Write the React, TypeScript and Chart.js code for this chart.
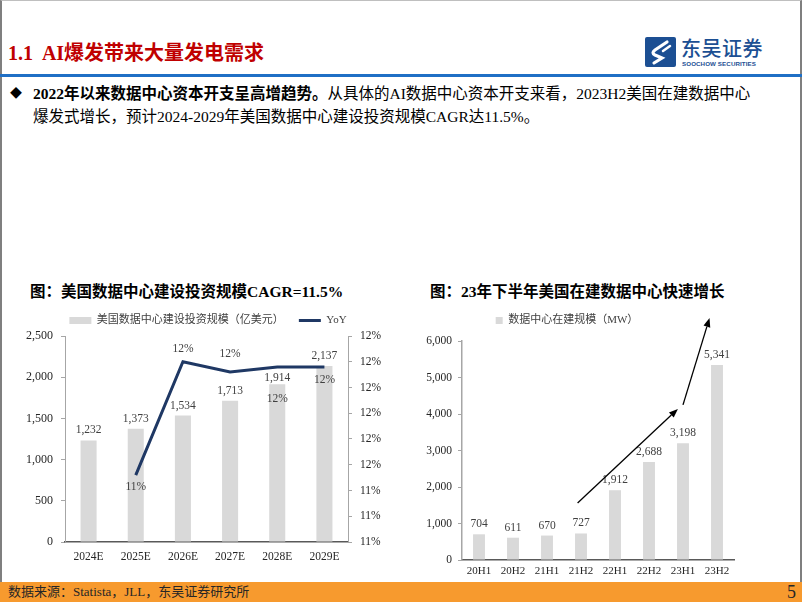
import React, { useEffect, useRef } from 'react';
import { Chart, registerables } from 'chart.js';

Chart.register(...registerables);

// ---------- data ----------
const investYears = ['2024E', '2025E', '2026E', '2027E', '2028E', '2029E'];
const investValues = [1232, 1373, 1534, 1713, 1914, 2137];
const yoyValues = [null, 11.48, 11.70, 11.68, 11.69, 11.69];
const yoyTickLabels = ['11%', '11%', '11%', '12%', '12%', '12%', '12%', '12%', '12%'];

const dcPeriods = ['20H1', '20H2', '21H1', '21H2', '22H1', '22H2', '23H1', '23H2'];
const dcValues = [704, 611, 670, 727, 1912, 2688, 3198, 5341];
// trend arrows in data units: [fromIndex, fromValue, toIndex, toValue]
const trendArrows = [
  [2.9, 1560, 5.85, 4140],
  [6.0, 4250, 6.78, 6630],
];

const SERIF = "'Liberation Serif', 'Times New Roman', 'Noto Sans CJK SC', serif";

Chart.defaults.font.family = SERIF;

const fmtNum = (v: number) => v.toLocaleString('en-US');
const fmtPct = (v: number) => Math.round(v) + '%';

const valueLabels = {
  id: 'valueLabels',
  afterDatasetsDraw(chart: any, _args: any, opts: any) {
    const ctx = chart.ctx;
    ctx.save();
    ctx.font = opts.font;
    ctx.fillStyle = opts.color;
    ctx.textAlign = 'center';
    ctx.textBaseline = 'middle';
    chart.data.datasets.forEach((ds: any, di: number) => {
      const meta = chart.getDatasetMeta(di);
      const offs = opts.offsets[di];
      const fmt = opts.formats[di];
      meta.data.forEach((el: any, i: number) => {
        const v = ds.data[i];
        if (v == null) return;
        const dy = Array.isArray(offs) ? offs[i] : offs;
        ctx.fillText(fmt(v), el.x, el.y + dy);
      });
    });
    ctx.restore();
  },
};

const arrowPlugin = {
  id: 'trendArrows',
  afterDatasetsDraw(chart: any, _args: any, opts: any) {
    const ctx = chart.ctx;
    const xs = chart.scales.x;
    const ys = chart.scales.y;
    ctx.save();
    ctx.strokeStyle = opts.color;
    ctx.fillStyle = opts.color;
    ctx.lineWidth = opts.width;
    opts.arrows.forEach(([i0, v0, i1, v1]: number[]) => {
      const x0 = xs.getPixelForValue(i0);
      const y0 = ys.getPixelForValue(v0);
      const x1 = xs.getPixelForValue(i1);
      const y1 = ys.getPixelForValue(v1);
      const ang = Math.atan2(y1 - y0, x1 - x0);
      const hl = opts.headLength;
      const hw = opts.headWidth;
      const bx = x1 - hl * Math.cos(ang);
      const by = y1 - hl * Math.sin(ang);
      ctx.beginPath();
      ctx.moveTo(x0, y0);
      ctx.lineTo(bx, by);
      ctx.stroke();
      ctx.beginPath();
      ctx.moveTo(x1, y1);
      ctx.lineTo(bx + hw * Math.sin(ang), by - hw * Math.cos(ang));
      ctx.lineTo(bx - hw * Math.sin(ang), by + hw * Math.cos(ang));
      ctx.closePath();
      ctx.fill();
    });
    ctx.restore();
  },
};

const legendHeight = {
  id: 'legendHeight',
  beforeInit(chart: any, _args: any, opts: any) {
    const legend = chart.legend;
    if (!legend) return;
    const fit = legend.fit;
    legend.fit = function () {
      fit.call(this);
      this.height = opts.height;
    };
  },
};

const axisColor = '#a6a6a6';
const baseColor = '#595959';
const tickColor = '#262626';

function InvestChart() {
  const ref = useRef<HTMLCanvasElement>(null);
  useEffect(() => {
    const chart = new Chart(ref.current as HTMLCanvasElement, {
      type: 'bar',
      data: {
        labels: investYears,
        datasets: [
          {
            type: 'bar',
            label: '美国数据中心建设投资规模（亿美元）',
            data: investValues,
            backgroundColor: '#d9d9d9',
            borderWidth: 0,
            barPercentage: 0.34,
            categoryPercentage: 1,
            pointStyle: 'rect',
            order: 1,
            yAxisID: 'y',
          } as any,
          {
            type: 'line',
            label: 'YoY',
            data: yoyValues,
            borderColor: '#1f3864',
            backgroundColor: '#1f3864',
            borderWidth: 3,
            pointRadius: 0,
            pointHoverRadius: 0,
            pointBorderWidth: 3,
            pointBorderColor: '#1f3864',
            pointStyle: 'line',
            tension: 0,
            order: 0,
            yAxisID: 'y1',
          } as any,
        ],
      },
      options: {
        responsive: false,
        animation: false,
        layout: { padding: { top: 0, left: 0, right: 0, bottom: 0 } },
        plugins: {
          tooltip: { enabled: false },
          legend: {
            position: 'top',
            labels: {
              usePointStyle: true,
              pointStyleWidth: 22,
              boxHeight: 7,
              padding: 15,
              color: '#404040',
              font: { size: 11, family: SERIF },
              sort: (a: any, b: any) => a.datasetIndex - b.datasetIndex,
            },
          },
          legendHeight: { height: 36 },
          valueLabels: {
            font: `11.5px ${SERIF}`,
            color: '#404040',
            offsets: [[-10, -10, -10, -10, -6, -10], [0, 12, -13, -18, 32, 13]],
            formats: [fmtNum, fmtPct],
          },
        } as any,
        scales: {
          x: {
            grid: { display: false, drawTicks: false },
            border: { color: baseColor, width: 1.5 },
            ticks: { color: tickColor, font: { size: 11.5 }, padding: 8, maxRotation: 0 },
            afterFit: (s: any) => { s.height = 30; },
          },
          y: {
            position: 'left',
            min: 0,
            max: 2500,
            ticks: { stepSize: 500, color: tickColor, font: { size: 12 }, padding: 8 },
            grid: { drawOnChartArea: false, drawTicks: true, tickLength: 4, color: axisColor },
            border: { color: axisColor, width: 1 },
            afterFit: (s: any) => { s.width = 49; },
          },
          y1: {
            position: 'right',
            min: 11.35,
            max: 11.75,
            ticks: {
              stepSize: 0.05,
              color: tickColor,
              font: { size: 11.5 },
              padding: 8,
              callback: (_v: any, i: number) => yoyTickLabels[i],
            },
            grid: { drawOnChartArea: false, drawTicks: true, tickLength: 4, color: axisColor },
            border: { color: axisColor, width: 1 },
            afterFit: (s: any) => { s.width = 52; },
          },
        },
      } as any,
      plugins: [legendHeight, valueLabels],
    });
    return () => chart.destroy();
  }, []);
  return (
    <canvas
      ref={ref}
      width={384}
      height={272}
      style={{ position: 'absolute', left: 16, top: 300, width: 384, height: 272 }}
    />
  );
}

function DcChart() {
  const ref = useRef<HTMLCanvasElement>(null);
  useEffect(() => {
    const chart = new Chart(ref.current as HTMLCanvasElement, {
      type: 'bar',
      data: {
        labels: dcPeriods,
        datasets: [
          {
            label: '数据中心在建规模（MW）',
            data: dcValues,
            backgroundColor: '#d9d9d9',
            borderWidth: 0,
            barPercentage: 0.35,
            categoryPercentage: 1,
            pointStyle: 'rect',
          } as any,
        ],
      },
      options: {
        responsive: false,
        animation: false,
        layout: { padding: { top: 0, left: 0, right: 10, bottom: 0 } },
        plugins: {
          tooltip: { enabled: false },
          legend: {
            position: 'top',
            labels: {
              usePointStyle: true,
              pointStyleWidth: 7,
              boxHeight: 7,
              padding: 10,
              color: '#404040',
              font: { size: 11, family: SERIF },
            },
          },
          legendHeight: { height: 36 },
          valueLabels: {
            font: `11.5px ${SERIF}`,
            color: '#404040',
            offsets: [-10],
            formats: [fmtNum],
          },
          trendArrows: {
            arrows: trendArrows,
            color: '#000000',
            width: 1.3,
            headLength: 9,
            headWidth: 3.5,
          },
        } as any,
        scales: {
          x: {
            grid: { display: false, drawTicks: false },
            border: { color: baseColor, width: 1.5 },
            ticks: { color: tickColor, font: { size: 11 }, padding: 5, maxRotation: 0 },
            afterFit: (s: any) => { s.height = 22; },
          },
          y: {
            min: 0,
            max: 6000,
            ticks: { stepSize: 1000, color: tickColor, font: { size: 11.5 }, padding: 6 },
            grid: { drawOnChartArea: false, drawTicks: true, tickLength: 4, color: axisColor },
            border: { color: axisColor, width: 1.5 },
            afterFit: (s: any) => { s.width = 62; },
          },
        },
      } as any,
      plugins: [legendHeight, valueLabels, arrowPlugin],
    });
    return () => chart.destroy();
  }, []);
  return (
    <canvas
      ref={ref}
      width={344}
      height={277}
      style={{ position: 'absolute', left: 400, top: 305, width: 344, height: 277 }}
    />
  );
}

function Logo() {
  return (
    <div style={{ position: 'absolute', left: 645, top: 37, width: 120, height: 32 }}>
      <svg width="31" height="30" viewBox="0 0 31 30" style={{ position: 'absolute', left: 0, top: 0 }}>
        <rect x="0" y="0" width="31" height="30" rx="2" fill="#1c4f93" />
        <path d="M22 5 L10 13 Q6 16 10 18 L17 21 L9 26" stroke="#ffffff" strokeWidth="3.2" fill="none" strokeLinecap="round" />
        <path d="M25 9 L18 14" stroke="#ffffff" strokeWidth="2.5" fill="none" strokeLinecap="round" />
      </svg>
      <div
        style={{
          position: 'absolute',
          left: 36,
          top: -2,
          fontFamily: "'Noto Sans CJK SC', sans-serif",
          fontSize: 20,
          fontWeight: 500,
          color: '#1c4f93',
          letterSpacing: 0.5,
          whiteSpace: 'nowrap',
          lineHeight: '26px',
        }}
      >
        东吴证券
      </div>
      <div
        style={{
          position: 'absolute',
          left: 37,
          top: 23,
          fontFamily: "'Liberation Sans', Arial, sans-serif",
          fontSize: 6.2,
          fontWeight: 700,
          color: '#1c4f93',
          whiteSpace: 'nowrap',
          letterSpacing: 0.1,
          lineHeight: '8px',
        }}
      >
        SOOCHOW SECURITIES
      </div>
    </div>
  );
}

export default function App() {
  return (
    <div
      style={{
        position: 'absolute',
        left: 0,
        top: 0,
        width: 802,
        height: 602,
        background: '#ffffff',
        overflow: 'hidden',
        fontFamily: SERIF,
      }}
    >
      {/* frame */}
      <div
        style={{
          position: 'absolute',
          left: 0,
          top: 0,
          width: 798,
          height: 582,
          borderLeft: '2px solid #7f7f7f',
          borderRight: '2px solid #7f7f7f',
          borderTop: '1px solid #bfbfbf',
          boxSizing: 'content-box',
        }}
      />
      {/* title */}
      <div
        style={{
          position: 'absolute',
          left: 8,
          top: 40,
          fontSize: 20,
          lineHeight: '26px',
          fontWeight: 700,
          color: '#c00000',
          whiteSpace: 'nowrap',
        }}
      >
        1.1&nbsp; AI爆发带来大量发电需求
      </div>
      <Logo />
      <div style={{ position: 'absolute', left: 0, top: 74, width: 802, height: 3, background: '#1f6fc5' }} />
      {/* bullet text */}
      <div style={{ position: 'absolute', left: 10, top: 85, fontSize: 12, lineHeight: '18px', color: '#000' }}>◆</div>
      <div
        style={{
          position: 'absolute',
          left: 33,
          top: 82,
          fontSize: 15.5,
          lineHeight: '23px',
          color: '#000',
          whiteSpace: 'nowrap',
        }}
      >
        <b>2022年以来数据中心资本开支呈高增趋势。</b>从具体的AI数据中心资本开支来看，2023H2美国在建数据中心
        <br />
        爆发式增长，预计2024-2029年美国数据中心建设投资规模CAGR达11.5%。
      </div>
      {/* chart titles */}
      <div
        style={{
          position: 'absolute',
          left: 30,
          top: 281,
          fontSize: 15.5,
          lineHeight: '22px',
          fontWeight: 700,
          color: '#000',
          whiteSpace: 'nowrap',
        }}
      >
        图：美国数据中心建设投资规模CAGR=11.5%
      </div>
      <div
        style={{
          position: 'absolute',
          left: 430,
          top: 281,
          fontSize: 15.5,
          lineHeight: '22px',
          fontWeight: 700,
          color: '#000',
          whiteSpace: 'nowrap',
        }}
      >
        图：23年下半年美国在建数据中心快速增长
      </div>
      <InvestChart />
      <DcChart />
      {/* footer */}
      <div style={{ position: 'absolute', left: 0, top: 582, width: 802, height: 20, background: '#f79a2e' }} />
      <div
        style={{
          position: 'absolute',
          left: 8,
          top: 582,
          fontSize: 13,
          lineHeight: '20px',
          color: '#262626',
          whiteSpace: 'nowrap',
        }}
      >
        数据来源：Statista，JLL，东吴证券研究所
      </div>
      <div
        style={{
          position: 'absolute',
          right: 6,
          top: 581,
          fontSize: 18,
          lineHeight: '22px',
          color: '#262626',
        }}
      >
        5
      </div>
    </div>
  );
}
